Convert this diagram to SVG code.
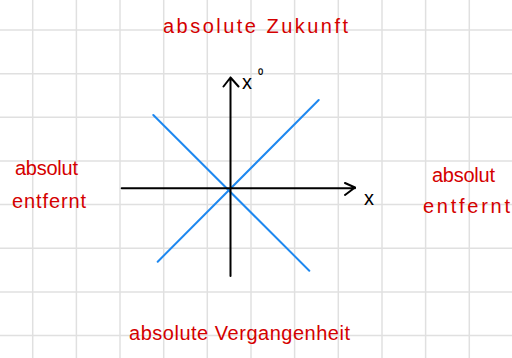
<svg xmlns="http://www.w3.org/2000/svg" width="512" height="358" viewBox="0 0 512 358">
<style>
.grid line{stroke:#e0e0e0;stroke-width:1.5}
.ax{stroke:#000;stroke-width:2;fill:none;stroke-linecap:round;stroke-linejoin:round}
.cone{stroke:#1e88f0;stroke-width:2;stroke-linecap:round}
.lbl{font-family:"Liberation Sans",Arial,sans-serif;font-size:20px;fill:#d40000}
.axl{font-family:"Liberation Sans",Arial,sans-serif;font-size:20px;fill:#000}
</style>
<rect width="512" height="358" fill="#fff"/>
<g class="grid" id="grid">
<line x1="32.7" y1="0" x2="32.7" y2="358"/><line x1="76.4" y1="0" x2="76.4" y2="358"/><line x1="120" y1="0" x2="120" y2="358"/><line x1="163.7" y1="0" x2="163.7" y2="358"/><line x1="207.3" y1="0" x2="207.3" y2="358"/><line x1="251" y1="0" x2="251" y2="358"/><line x1="294.6" y1="0" x2="294.6" y2="358"/><line x1="338.3" y1="0" x2="338.3" y2="358"/><line x1="382" y1="0" x2="382" y2="358"/><line x1="425.6" y1="0" x2="425.6" y2="358"/><line x1="469.3" y1="0" x2="469.3" y2="358"/>
<line x1="0" y1="30" x2="512" y2="30"/><line x1="0" y1="73.7" x2="512" y2="73.7"/><line x1="0" y1="117.3" x2="512" y2="117.3"/><line x1="0" y1="161" x2="512" y2="161"/><line x1="0" y1="204.6" x2="512" y2="204.6"/><line x1="0" y1="248.3" x2="512" y2="248.3"/><line x1="0" y1="292" x2="512" y2="292"/><line x1="0" y1="335.6" x2="512" y2="335.6"/>
</g>
<g id="connectors">
<line class="cone" x1="153.3" y1="115" x2="309.3" y2="270.7"/>
<line class="cone" x1="157.7" y1="261.7" x2="318.7" y2="100"/>
<path class="ax" d="M230.5 276 V77.5 M223.5 86.5 L230.5 77.5 L238.5 86.5"/>
<path class="ax" d="M121.7 188.3 H355 M345 183 L355 187.5 L345 195"/>
</g>
<g id="x0-label"><text class="axl" x="242" y="89">x<tspan x="258" y="81" font-size="15">⁰</tspan></text></g>
<g id="x-label"><text class="axl" x="364" y="205">x</text></g>
<g id="future"><text class="lbl" x="163" y="33" textLength="185" lengthAdjust="spacing">absolute Zukunft</text></g>
<g id="past"><text class="lbl" x="129" y="340" textLength="221" lengthAdjust="spacing">absolute Vergangenheit</text></g>
<g id="left"><text class="lbl" x="15" y="175" textLength="63" lengthAdjust="spacing">absolut</text><text class="lbl" x="12" y="208" textLength="74" lengthAdjust="spacing">entfernt</text></g>
<g id="right"><text class="lbl" x="432" y="182" textLength="63" lengthAdjust="spacing">absolut</text><text class="lbl" x="423" y="213" textLength="87" lengthAdjust="spacing">entfernt</text></g>
</svg>
